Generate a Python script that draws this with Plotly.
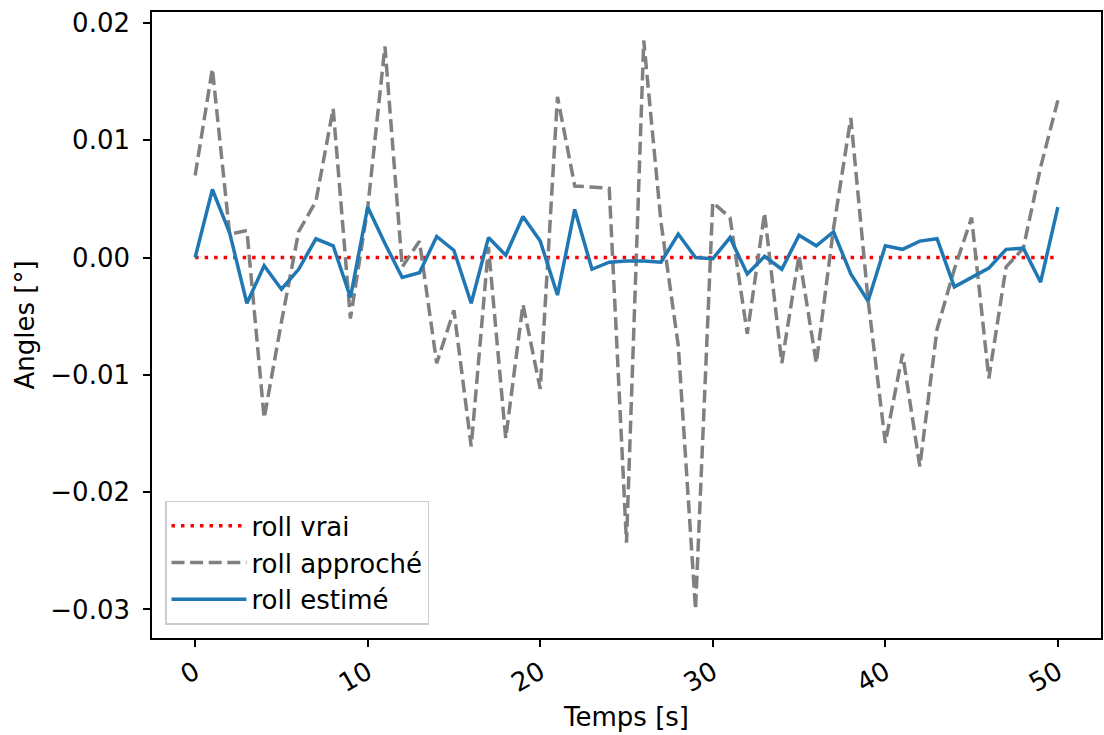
import plotly.graph_objects as go

temps = list(range(51))

roll_vrai = [0.0] * 51

roll_approche = [
    0.0070, 0.0161, 0.0020, 0.0023, -0.0137, -0.0055, 0.0022, 0.0048, 0.0127, -0.0052,
    0.0042, 0.0180, -0.0008, 0.0014, -0.0090, -0.0045, -0.0161, 0.0009, -0.0154, -0.0040,
    -0.0112, 0.0137, 0.0061, 0.0060, 0.0059, -0.0243, 0.0185, 0.0030, -0.0075, -0.0300,
    0.0047, 0.0034, -0.0065, 0.0038, -0.0090, 0.0002, -0.0090, 0.0025, 0.0119, -0.0036,
    -0.0158, -0.0082, -0.0178, -0.0061, -0.0010, 0.0034, -0.0103, -0.0008, 0.0008, 0.0077,
    0.0134,
]

roll_estime = [
    0.0000, 0.0058, 0.0021, -0.0039, -0.0007, -0.0027, -0.0010, 0.0016, 0.0010, -0.0034,
    0.0043, 0.0012, -0.0017, -0.0013, 0.0018, 0.0006, -0.0039, 0.0017, 0.0002, 0.0035,
    0.0014, -0.0032, 0.0041, -0.0010, -0.0004, -0.0003, -0.0003, -0.0004, 0.0020, 0.0000,
    -0.0001, 0.0017, -0.0014, 0.0001, -0.0010, 0.0019, 0.0010, 0.0022, -0.0014, -0.0037,
    0.0010, 0.0007, 0.0014, 0.0016, -0.0025, -0.0017, -0.0009, 0.0007, 0.0008, -0.0021,
    0.0043,
]

y_ticks = [0.02, 0.01, 0.0, -0.01, -0.02, -0.03]
x_ticks = [0, 10, 20, 30, 40, 50]

FONT = "DejaVu Sans"
FS = 26
LW = 3.5

fig = go.Figure()
fig.add_trace(go.Scatter(
    x=temps, y=roll_vrai, mode="lines", name="roll vrai",
    line=dict(color="#ff0000", width=LW, dash="3.5px,6px"),
))
fig.add_trace(go.Scatter(
    x=temps, y=roll_approche, mode="lines", name="roll approché",
    line=dict(color="#808080", width=LW, dash="13px,5.6px"),
))
fig.add_trace(go.Scatter(
    x=temps, y=roll_estime, mode="lines", name="roll estimé",
    line=dict(color="#1f77b4", width=LW),
))

axis_common = dict(
    showgrid=False, zeroline=False,
    showline=True, linecolor="black", linewidth=1.6, mirror=True,
    ticks="outside", ticklen=7, tickwidth=1.6, tickcolor="black",
    tickfont=dict(family=FONT, size=FS, color="black"),
)

fig.update_xaxes(
    range=[-2.5, 52.5], tickvals=x_ticks, tickangle=-30,
    title=dict(text="Temps [s]", font=dict(family=FONT, size=FS, color="black"), standoff=11),
    **axis_common,
)
fig.update_yaxes(
    range=[-0.03243, 0.02093], tickvals=y_ticks, tickformat=".2f",
    ticklabelstandoff=8,
    title=dict(text="Angles [°]", font=dict(family=FONT, size=FS, color="black"), standoff=8),
    **axis_common,
)

fig.update_layout(
    width=1104, height=735,
    margin=dict(l=152, r=1, t=12, b=97),
    paper_bgcolor="white", plot_bgcolor="white",
    font=dict(family=FONT, size=FS, color="black"),
    showlegend=True,
    legend=dict(
        x=0.0137, y=0.021, xanchor="left", yanchor="bottom",
        bgcolor="rgba(255,255,255,0.8)", bordercolor="#cccccc", borderwidth=1.5,
        font=dict(family=FONT, size=FS, color="black"),
        tracegroupgap=0, itemwidth=75,
    ),
)

fig.write_html("out.html")
